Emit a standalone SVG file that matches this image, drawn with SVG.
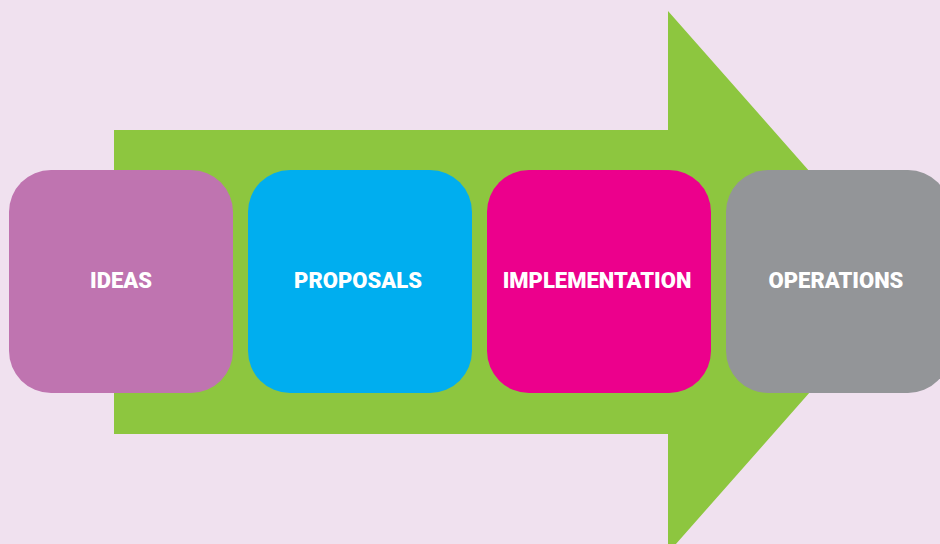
<svg xmlns="http://www.w3.org/2000/svg" width="940" height="544" viewBox="0 0 940 544">
  <style>
    .box { stroke: none; }
    .label { font-family: Roboto, "Liberation Sans", sans-serif; font-weight: 900; font-size: 22px; fill: #ffffff; text-anchor: middle; }
  </style>
  <rect x="0" y="0" width="940" height="544" fill="#F0E1EF"/>
  <!-- big flow arrow behind the stages -->
  <g id="connectors">
    <polygon points="114,130 668,130 668,11 907,282 668,553 668,434 114,434" fill="#8DC63F"/>
  </g>
  <g id="ideas">
    <rect class="box" x="9" y="170" width="224" height="223" rx="42" fill="#BF74B0"/>
    <text class="label" x="121" y="288">IDEAS</text>
  </g>
  <g id="proposals">
    <rect class="box" x="248" y="170" width="224" height="223" rx="42" fill="#00AEEF"/>
    <text class="label" x="358" y="288">PROPOSALS</text>
  </g>
  <g id="implementation">
    <rect class="box" x="487" y="170" width="224" height="223" rx="42" fill="#EC008C"/>
    <text class="label" x="597" y="288">IMPLEMENTATION</text>
  </g>
  <g id="operations">
    <rect class="box" x="726" y="170" width="224" height="223" rx="42" fill="#939598"/>
    <text class="label" x="836" y="288">OPERATIONS</text>
  </g>
</svg>
